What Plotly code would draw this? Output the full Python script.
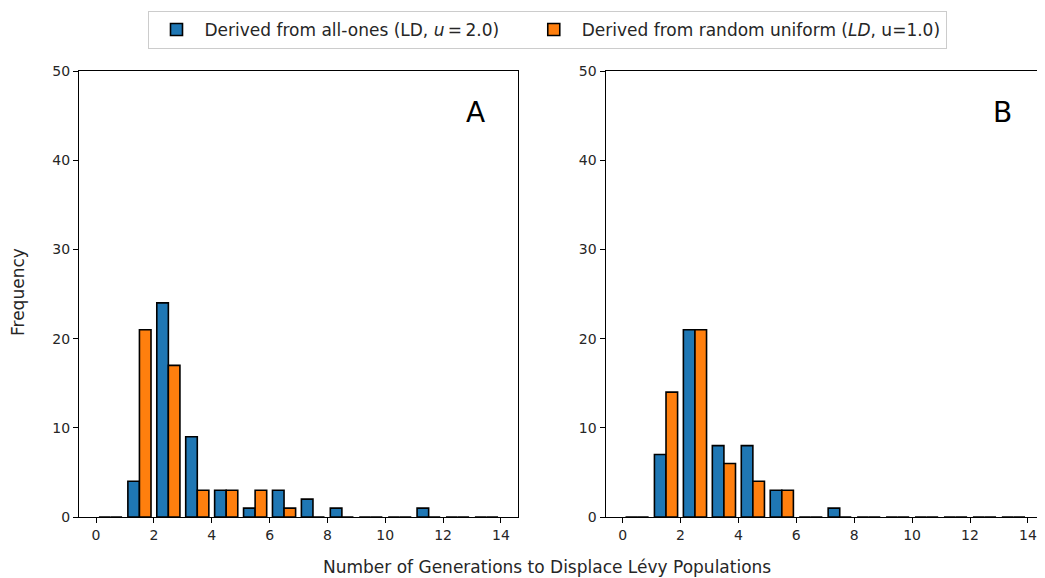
import plotly.graph_objects as go
import numpy as np

# Bins: integer generations 0..13 (width 1)
bin_left = list(range(14))

# Panel A counts
a_allones = [0, 4, 24, 9, 3, 1, 3, 2, 1, 0, 0, 1, 0, 0]
a_uniform = [0, 21, 17, 3, 3, 3, 1, 0, 0, 0, 0, 0, 0, 0]

# Panel B counts
b_allones = [0, 7, 21, 8, 8, 3, 0, 1, 0, 0, 0, 0, 0, 0]
b_uniform = [0, 14, 21, 6, 4, 3, 0, 0, 0, 0, 0, 0, 0, 0]

series_names = ["Derived from all-ones (LD, <i>u</i>\u2009=\u20092.0)",
                "Derived from random uniform (<i>LD</i>, u=1.0)"]
colors = ["#1f77b4", "#ff7f0e"]
x_ticks = [0, 2, 4, 6, 8, 10, 12, 14]
y_ticks = [0, 10, 20, 30, 40, 50]
panel_labels = ["A", "B"]

FONT = "DejaVu Sans"
TXT = "#262626"

# page offset (body margin) = 8px; figure sized to fit the window
OFF = 8
W, H = 1045 - OFF, 578 - OFF
L, R, T = 79 - OFF, 0, 71 - OFF
PLOT_BOTTOM = 517 - OFF
B = H - PLOT_BOTTOM
PW = W - L - R
PH = PLOT_BOTTOM - T


def px(page_x):
    return (page_x - OFF - L) / PW


def py(page_y):
    return (PLOT_BOTTOM - (page_y - OFF)) / PH


centers = np.array(bin_left) + 0.5
legend_names = [series_names[0] + "\u00a0" * 4, series_names[1]]

fig = go.Figure()
for i, vals in enumerate([a_allones, a_uniform]):
    fig.add_trace(go.Bar(x=centers, y=vals, name=legend_names[i], width=0.4, offset=-0.4 + 0.4 * i,
                         marker=dict(color=colors[i], line=dict(color="black", width=1.6)),
                         xaxis="x", yaxis="y", legendgroup=str(i), showlegend=True))
for i, vals in enumerate([b_allones, b_uniform]):
    fig.add_trace(go.Bar(x=centers, y=vals, name=legend_names[i], width=0.4, offset=-0.4 + 0.4 * i,
                         marker=dict(color=colors[i], line=dict(color="black", width=1.6)),
                         xaxis="x2", yaxis="y2", legendgroup=str(i), showlegend=False))

ax_common = dict(showgrid=False, zeroline=False, showline=True, linecolor="black", linewidth=1,
                 mirror=True, ticks="outside", ticklen=5, tickcolor="black", tickwidth=1,
                 automargin=False,
                 tickfont=dict(family=FONT, size=14, color=TXT))

fig.update_layout(
    width=W, height=H,
    autosize=False,
    margin=dict(l=L, r=R, t=T, b=B, pad=0),
    plot_bgcolor="white", paper_bgcolor="white",
    barmode="overlay",
    font=dict(family=FONT, size=14, color=TXT),
    xaxis=dict(domain=[px(79), px(518)], range=[-0.59, 14.59], tickvals=x_ticks, anchor="y", **ax_common),
    yaxis=dict(domain=[0, 1], range=[0, 50], tickvals=y_ticks, anchor="x", **ax_common),
    xaxis2=dict(domain=[px(605.5), 1.0], range=[-0.59, 14.59], tickvals=x_ticks, anchor="y2", **ax_common),
    yaxis2=dict(domain=[0, 1], range=[0, 50], tickvals=y_ticks, anchor="x2", **ax_common),
    legend=dict(orientation="h", x=px(547), y=py(30), xanchor="center", yanchor="middle",
                bordercolor="#cccccc", borderwidth=1, bgcolor="white", itemwidth=46,
                font=dict(family=FONT, size=17, color=TXT), traceorder="normal"),
    showlegend=True,
)

for lbl, xp in zip(panel_labels, [475, 1002]):
    fig.add_annotation(text=lbl, x=px(xp), y=py(112), xref="paper", yref="paper",
                       showarrow=False, font=dict(family=FONT, size=28, color="black"),
                       xanchor="center", yanchor="middle")

fig.add_annotation(text="Number of Generations to Displace Lévy Populations",
                   x=px(547), y=py(567), xref="paper", yref="paper", showarrow=False,
                   font=dict(family=FONT, size=17, color=TXT), xanchor="center", yanchor="middle")
fig.add_annotation(text="Frequency", textangle=-90,
                   x=px(18), y=py(292), xref="paper", yref="paper", showarrow=False,
                   font=dict(family=FONT, size=17, color=TXT), xanchor="center", yanchor="middle")

fig.write_html("out.html")
